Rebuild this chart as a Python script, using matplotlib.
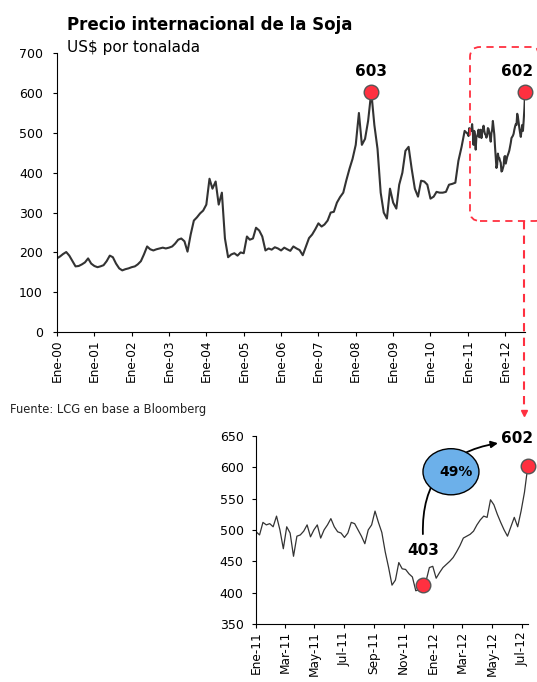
import pandas as pd
import matplotlib
matplotlib.use("Agg")
import matplotlib.pyplot as plt
from matplotlib.patches import Ellipse, FancyBboxPatch, FancyArrowPatch
from matplotlib.lines import Line2D
from matplotlib.transforms import IdentityTransform

plt.rcParams['font.family'] = ['DejaVu Sans']

# precio mensual 2000-2010 (US$/tn)
precio_mensual = [
    185, 190, 196, 201, 192, 178, 165, 166, 170, 175, 185, 172,   # 2000
    166, 163, 165, 168, 178, 192, 188, 172, 160, 155, 158, 160,   # 2001
    163, 165, 170, 178, 195, 215, 208, 205, 208, 210, 212, 210,   # 2002
    212, 215, 222, 232, 235, 228, 202, 245, 280, 288, 298, 305,   # 2003
    320, 385, 360, 378, 320, 350, 235, 188, 195, 198, 192, 200,   # 2004
    198, 240, 232, 235, 262, 255, 240, 205, 210, 207, 213, 210,   # 2005
    205, 212, 208, 204, 215, 210, 206, 193, 215, 236, 245, 258,   # 2006
    273, 265, 270, 280, 300, 302, 325, 339, 350, 381, 410, 435,   # 2007
    470, 550, 470, 485, 530, 603, 520, 460, 350, 300, 285, 360,   # 2008
    325, 310, 370, 400, 455, 465, 410, 360, 340, 380, 378, 370,   # 2009
    335, 340, 352, 350, 350, 352, 370, 372, 375, 430, 465, 505,   # 2010
]

# precio semanal desde ene-2011 hasta jul-2012
precio_semanal = [
    497, 492, 512, 508, 510, 505, 522, 500, 470, 505,
    495, 458, 490, 492, 498, 508, 489, 500, 508, 487,
    500, 508, 518, 505, 497, 495, 488, 495, 512, 510,
    500, 490, 478, 500, 508, 530, 512, 496, 465, 440,
    412, 420, 448, 438, 437, 430, 425, 403, 405, 412,
    418, 440, 442, 423, 432, 440, 445, 450, 456, 465,
    475, 487, 490, 493, 498, 508, 516, 522, 520, 548,
    540, 525, 512, 500, 490, 505, 520, 505, 530, 560,
    602,
]

etiquetas_anios = ['Ene-00', 'Ene-01', 'Ene-02', 'Ene-03', 'Ene-04', 'Ene-05', 'Ene-06',
                   'Ene-07', 'Ene-08', 'Ene-09', 'Ene-10', 'Ene-11', 'Ene-12']
etiquetas_meses = ['Ene-11', 'Mar-11', 'May-11', 'Jul-11', 'Sep-11', 'Nov-11',
                   'Ene-12', 'Mar-12', 'May-12', 'Jul-12']

fechas_m = pd.date_range('2000-01-01', periods=len(precio_mensual), freq='MS')
fechas_s = pd.date_range('2011-01-01', periods=len(precio_semanal), freq='7D')
serie = pd.concat([pd.Series(precio_mensual, index=fechas_m),
                   pd.Series(precio_semanal, index=fechas_s)])
semanal = pd.Series(precio_semanal, index=fechas_s)

fig = plt.figure(figsize=(5.37, 6.82), dpi=100)
linea = '#333333'
rojo = '#ff3040'

# ---- grafico principal
ax = fig.add_axes([0.106, 0.513, 0.872, 0.409])
ax.plot(serie.index, serie.values, color=linea, lw=1.5)
ax.set_ylim(0, 700)
ax.set_yticks(range(0, 701, 100))
ax.set_xlim(pd.Timestamp('2000-01-01'), pd.Timestamp('2012-07-15'))
ticks_anios = pd.to_datetime([f'{y}-01-01' for y in range(2000, 2013)])
ax.set_xticks(ticks_anios)
ax.set_xticklabels(etiquetas_anios, rotation=90)
for s in ['top', 'right']:
    ax.spines[s].set_visible(False)
ax.tick_params(axis='y', labelsize=9, length=3, pad=7)
ax.tick_params(axis='x', labelsize=8.7, length=3, pad=2)

pico = serie.idxmax()
ax.plot([pico], [serie.max()], 'o', ms=10.5, color=rojo, mec='#555555', mew=1, zorder=5)
ax.annotate('603', (pico, serie.max()), xytext=(0, 15), textcoords='offset points',
            ha='center', va='center', fontsize=11, fontweight='bold')
ultimo = serie.index[-1]
ax.plot([ultimo], [serie.iloc[-1]], 'o', ms=10.5, color=rojo, mec='#555555', mew=1,
        zorder=5, clip_on=False)
ax.annotate('602', (ultimo, serie.iloc[-1]), xytext=(-6, 15), textcoords='offset points',
            ha='center', va='center', fontsize=11, fontweight='bold')

fig.text(0.125, 0.963, 'Precio internacional de la Soja', fontsize=12, fontweight='bold',
         va='center')
fig.text(0.125, 0.931, 'US$ por tonalada', fontsize=11, va='center')
fig.text(0.019, 0.400, 'Fuente: LCG en base a Bloomberg', fontsize=8.3, va='center',
         color='#222222')

# ---- zoom 2011-2012
ax2 = fig.add_axes([0.477, 0.085, 0.506, 0.276])
ax2.plot(semanal.index, semanal.values, color=linea, lw=0.9)
ax2.set_ylim(350, 650)
ax2.set_yticks(range(350, 651, 50))
ax2.set_xlim(pd.Timestamp('2011-01-01'), pd.Timestamp('2012-07-14'))
ticks_meses = pd.date_range('2011-01-01', periods=len(etiquetas_meses), freq='2MS')
ax2.set_xticks(ticks_meses)
ax2.set_xticklabels(etiquetas_meses, rotation=90)
for s in ['top', 'right']:
    ax2.spines[s].set_visible(False)
ax2.tick_params(axis='y', labelsize=9, length=3, pad=6)
ax2.tick_params(axis='x', labelsize=8.7, length=3, pad=2)

punto_bajo = semanal.index[49]
ax2.plot([punto_bajo], [semanal.iloc[49]], 'o', ms=10.5, color=rojo, mec='#555555',
         mew=1, zorder=5)
ax2.plot([semanal.index[-1]], [semanal.iloc[-1]], 'o', ms=10.5, color=rojo,
         mec='#555555', mew=1, zorder=5, clip_on=False)

ax2.text(0.614, 0.39, str(min(precio_semanal)), transform=ax2.transAxes, ha='center',
         va='center', fontsize=11, fontweight='bold')
ax2.text(0.96, 0.985, str(precio_semanal[-1]), transform=ax2.transAxes, ha='center',
         va='center', fontsize=11, fontweight='bold', clip_on=False)

flecha = FancyArrowPatch((0.614, 0.463), (0.90, 0.963), transform=ax2.transAxes,
                         connectionstyle='arc3,rad=-0.45', arrowstyle='-|>',
                         mutation_scale=10, lw=1.3, color='black', zorder=6,
                         clip_on=False)
ax2.add_patch(flecha)
elipse = Ellipse((0.717, 0.809), 0.206, 0.245, transform=ax2.transAxes,
                 facecolor='#6cb0ea', edgecolor='black', lw=1, zorder=7, clip_on=False)
ax2.add_patch(elipse)
suba = precio_semanal[-1] / min(precio_semanal) - 1
ax2.text(0.735, 0.809, f'{suba:.0%}', transform=ax2.transAxes, ha='center',
         va='center', fontsize=10, fontweight='bold', zorder=8)

# recuadro rojo y flecha punteada
ident = IdentityTransform()
H = 682
caja = FancyBboxPatch((470, H - 221), 75, 174, boxstyle='round,pad=0,rounding_size=10',
                      transform=ident, fill=False, edgecolor=rojo, lw=1.3,
                      linestyle=(0, (4, 3)))
fig.patches.append(caja)
fig.lines.append(Line2D([524, 524], [H - 221, H - 410], transform=ident, color=rojo,
                        lw=1.5, linestyle=(0, (4, 3))))
fig.lines.append(Line2D([524], [H - 413], transform=ident, marker='v', ms=5,
                        color=rojo, mec=rojo))

fig.savefig('out.png', dpi=100)
